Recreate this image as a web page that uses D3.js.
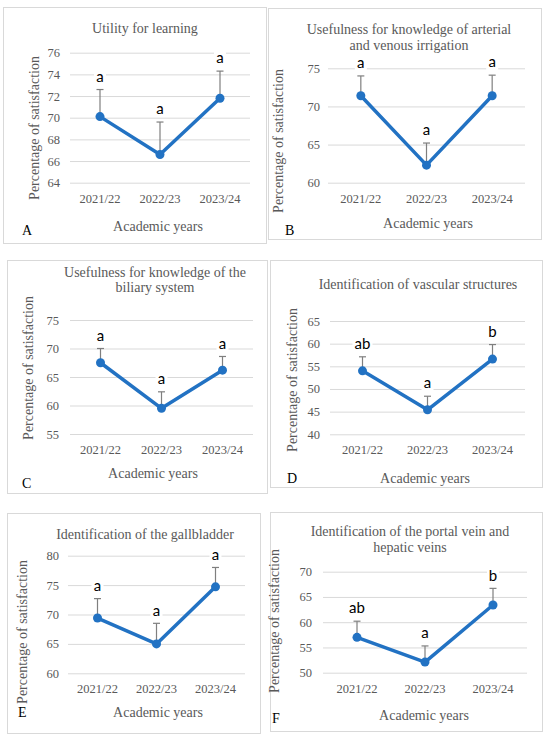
<!DOCTYPE html>
<html>
<head>
<meta charset="utf-8">
<script src="https://cdn.jsdelivr.net/npm/d3@7"></script>
<style>
  body { margin: 0; background: #fff; }
  svg { display: block; }
</style>
</head>
<body>
<svg id="fig" width="550" height="739"></svg>
<script>
// categories
var years = ["2021/22", "2022/23", "2023/24"];

// panel titles
var titleA = ["Utility for learning"];
var titleB = ["Usefulness for knowledge of arterial", "and venous irrigation"];
var titleC = ["Usefulness for knowledge of the", "biliary system"];
var titleD = ["Identification of vascular structures"];
var titleE = ["Identification of the gallbladder"];
var titleF = ["Identification of the portal vein and", "hepatic veins"];

// means and upper error
var meanA = [70.1, 66.6, 71.8];
var errA  = [2.5, 3.0, 2.5];
var meanB = [71.4, 62.3, 71.4];
var errB  = [2.6, 2.9, 2.7];
var meanC = [67.5, 59.5, 66.2];
var errC  = [2.5, 2.9, 2.4];
var meanD = [54.0, 45.4, 56.6];
var errD  = [3.1, 3.0, 3.2];
var meanE = [69.4, 65.0, 74.7];
var errE  = [3.3, 3.5, 3.3];
var meanF = [57.0, 52.1, 63.4];
var errF  = [3.2, 3.2, 3.3];

// significance letters
var letA = ["a", "a", "a"];
var letB = ["a", "a", "a"];
var letC = ["a", "a", "a"];
var letD = ["ab", "a", "b"];
var letE = ["a", "a", "a"];
var letF = ["ab", "a", "b"];

// y tick values
var ticksA = [64, 66, 68, 70, 72, 74, 76];
var ticksB = [60, 65, 70, 75];
var ticksC = [55, 60, 65, 70, 75];
var ticksD = [40, 45, 50, 55, 60, 65];
var ticksE = [60, 65, 70, 75, 80];
var ticksF = [50, 55, 60, 65, 70];

var panels = [
  {id: "A", title: titleA, mean: meanA, err: errA, lab: letA, ticks: ticksA,
   box: [3, 7, 266, 243], plot: [70, 250, 52.7, 182.7], tx: 145, ty: [28],
   pad: 10, yl: [34.5, 128], xl: [158, 226], tag: [22, 235]},
  {id: "B", title: titleB, mean: meanB, err: errB, lab: letB, ticks: ticksB,
   box: [268, 8, 541, 239], plot: [328, 525, 68.3, 182.7], tx: 409, ty: [29, 45],
   pad: 8, yl: [278, 141], xl: [428, 223], tag: [285, 235]},
  {id: "C", title: titleC, mean: meanC, err: errC, lab: letC, ticks: ticksC,
   box: [7, 260, 267, 493], plot: [70, 253, 320, 434], tx: 155, ty: [272, 287],
   pad: 11, yl: [28, 368], xl: [153, 473], tag: [22, 488]},
  {id: "D", title: titleD, mean: meanD, err: errD, lab: letD, ticks: ticksD,
   box: [270, 260, 542, 487], plot: [330, 525, 321, 434.3], tx: 418, ty: [284],
   pad: 10, yl: [292, 380], xl: [425, 478], tag: [287, 483]},
  {id: "E", title: titleE, mean: meanE, err: errE, lab: letE, ticks: ticksE,
   box: [7, 513, 260, 733], plot: [68, 245, 555.7, 673.3], tx: 145, ty: [534],
   pad: 9, yl: [22, 632], xl: [158, 712], tag: [18, 717]},
  {id: "F", title: titleF, mean: meanF, err: errF, lab: letF, ticks: ticksF,
   box: [270, 512, 542, 731], plot: [323, 527, 571.7, 672.7], tx: 410, ty: [531, 547],
   pad: 11, yl: [274, 621], xl: [424, 715], tag: [272, 723]}
];

var serif = "Liberation Serif, Times New Roman, serif";
var gray = "#595959";
var blue = "#2272c3";

var svg = d3.select("#fig");

panels.forEach(function (p) {
  var g = svg.append("g");

  // frame
  g.append("rect")
    .attr("x", p.box[0] + 0.5).attr("y", p.box[1] + 0.5)
    .attr("width", p.box[2] - p.box[0]).attr("height", p.box[3] - p.box[1])
    .attr("fill", "#fff").attr("stroke", "#d9d9d9").attr("stroke-width", 1);

  var x = d3.scaleBand().domain(years).range([p.plot[0], p.plot[1]]).padding(0);
  var y = d3.scaleLinear()
    .domain([d3.min(p.ticks), d3.max(p.ticks)])
    .range([p.plot[3], p.plot[2]]);
  var w = p.plot[1] - p.plot[0];

  // y axis with gridlines
  var ya = g.append("g")
    .attr("transform", "translate(" + p.plot[0] + ",0)")
    .call(d3.axisLeft(y).tickValues(p.ticks).tickSize(-w).tickPadding(p.pad))
    .attr("font-family", serif).attr("font-size", 12.5);
  ya.select(".domain").remove();
  ya.selectAll("line").attr("stroke", "#d9d9d9").attr("stroke-width", 1);
  ya.selectAll("text").attr("fill", gray);

  // x axis labels
  var xa = g.append("g")
    .attr("transform", "translate(0," + p.plot[3] + ")")
    .call(d3.axisBottom(x).tickSize(0).tickPadding(11))
    .attr("font-family", serif).attr("font-size", 12.5);
  xa.select(".domain").remove();
  xa.selectAll("text").attr("fill", gray);

  // title
  p.title.forEach(function (t, i) {
    g.append("text")
      .attr("x", p.tx).attr("y", p.ty[i]).attr("dy", "0.35em")
      .attr("text-anchor", "middle")
      .attr("fill", gray)
      .attr("font-family", serif).attr("font-size", 14)
      .text(t);
  });

  // axis titles
  g.append("text")
    .attr("transform", "translate(" + p.yl[0] + "," + p.yl[1] + ") rotate(-90)")
    .attr("dy", "0.35em")
    .attr("text-anchor", "middle")
    .attr("fill", gray)
    .attr("font-family", serif).attr("font-size", 14)
    .text("Percentage of satisfaction");

  g.append("text")
    .attr("x", p.xl[0]).attr("y", p.xl[1]).attr("dy", "0.35em")
    .attr("text-anchor", "middle")
    .attr("fill", gray)
    .attr("font-family", serif).attr("font-size", 14)
    .text("Academic years");

  // panel letter
  g.append("text")
    .attr("x", p.tag[0]).attr("y", p.tag[1])
    .attr("fill", "#000")
    .attr("font-family", serif).attr("font-size", 14)
    .text(p.id);

  var cx = function (i) { return x(years[i]) + x.bandwidth() / 2; };

  // error bars (upper only)
  p.mean.forEach(function (m, i) {
    var top = y(m + p.err[i]);
    g.append("line")
      .attr("x1", cx(i)).attr("x2", cx(i))
      .attr("y1", y(m)).attr("y2", top)
      .attr("stroke", "#7f7f7f").attr("stroke-width", 1.2);
    g.append("line")
      .attr("x1", cx(i) - 3.5).attr("x2", cx(i) + 3.5)
      .attr("y1", top).attr("y2", top)
      .attr("stroke", "#7f7f7f").attr("stroke-width", 1.2);
  });

  // line and markers
  var line = d3.line()
    .x(function (d, i) { return cx(i); })
    .y(function (d) { return y(d); });

  g.append("path")
    .attr("d", line(p.mean))
    .attr("fill", "none")
    .attr("stroke", blue)
    .attr("stroke-width", 3.5)
    .attr("stroke-linejoin", "round");

  g.selectAll(".dot")
    .data(p.mean)
    .enter().append("circle")
    .attr("cx", function (d, i) { return cx(i); })
    .attr("cy", function (d) { return y(d); })
    .attr("r", 4.5)
    .attr("fill", blue);

  // significance letters with white background
  p.lab.forEach(function (l, i) {
    var ly = y(p.mean[i] + p.err[i]) - 13;
    var lw = l.length * 8 + 4;
    g.append("rect")
      .attr("x", cx(i) - lw / 2).attr("y", ly - 8)
      .attr("width", lw).attr("height", 16)
      .attr("fill", "#fff");
    g.append("text")
      .attr("x", cx(i)).attr("y", ly).attr("dy", "0.35em")
      .attr("text-anchor", "middle")
      .attr("fill", "#000")
      .attr("font-family", "Lato, Open Sans, sans-serif")
      .attr("font-size", 15)
      .text(l);
  });
});
</script>
</body>
</html>
